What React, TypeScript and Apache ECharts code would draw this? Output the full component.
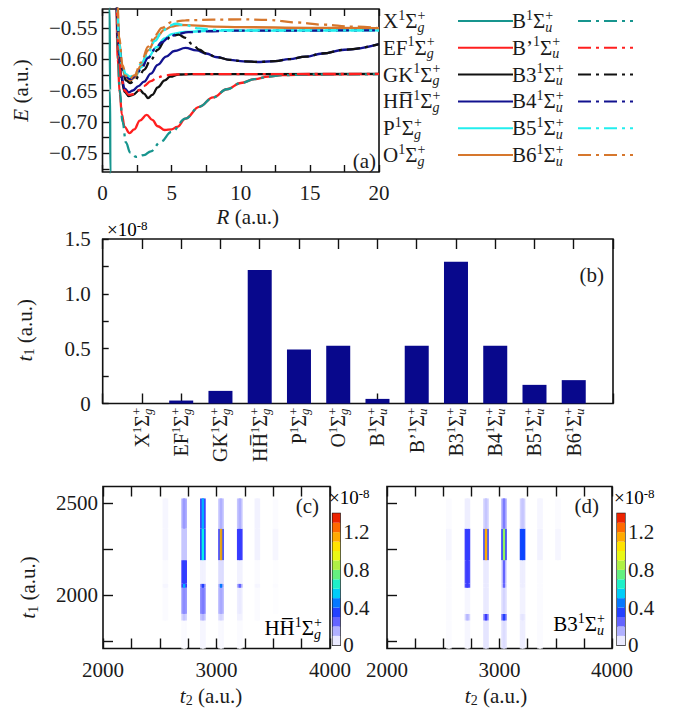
import React, { useEffect, useRef } from 'react';
import * as echarts from 'echarts';

const FONT = 'Liberation Serif, DejaVu Serif, serif';
const INK = '#1b1b1b';

// ---------- (a) potential energy curves, [R (a.u.), E (a.u.)] ----------
const curveX = [[0.48, -0.4], [0.52, -0.52], [0.545, -0.65], [0.57, -0.78], [0.6, -0.86]];
const curveEF = [[0.9, -0.4], [1.0, -0.52], [1.1, -0.6], [1.25, -0.655], [1.4, -0.688], [1.6, -0.708], [1.95, -0.718], [2.3, -0.712], [2.7, -0.698], [3.2, -0.689], [3.6, -0.697], [4.0, -0.707], [4.5, -0.713], [5.0, -0.712], [5.4, -0.708], [6.0, -0.695], [7.0, -0.676], [8.0, -0.661], [9.0, -0.648], [10.0, -0.638], [11.0, -0.632], [12.0, -0.628], [13.0, -0.6255], [15.0, -0.6245], [20, -0.624]];
const curveGK = [[0.9, -0.4], [1.0, -0.51], [1.15, -0.585], [1.35, -0.63], [1.6, -0.652], [1.9, -0.659], [2.2, -0.657], [2.7, -0.649], [3.0, -0.655], [3.3, -0.662], [3.6, -0.657], [4.0, -0.645], [4.5, -0.634], [4.9, -0.628], [5.5, -0.6245], [6.5, -0.6238], [20, -0.6236]];
const curveHH = [[0.9, -0.4], [1.0, -0.51], [1.15, -0.58], [1.35, -0.625], [1.6, -0.647], [1.9, -0.653], [2.2, -0.65], [2.6, -0.643], [3.0, -0.636], [3.5, -0.623], [4.0, -0.609], [4.6, -0.596], [5.2, -0.587], [6.0, -0.582], [6.8, -0.586], [7.5, -0.591], [8.3, -0.597], [9.2, -0.601], [10.2, -0.6035], [11.4, -0.6045], [12.5, -0.603], [13.5, -0.6], [14.7, -0.596], [15.9, -0.591], [17.5, -0.585], [20, -0.576]];
const curveP = [[0.95, -0.42], [1.05, -0.52], [1.2, -0.585], [1.4, -0.615], [1.7, -0.63], [2.0, -0.633], [2.4, -0.627], [2.8, -0.613], [3.3, -0.597], [3.9, -0.581], [4.5, -0.567], [5.0, -0.56], [6.0, -0.5565], [8, -0.5545], [20, -0.554]];
const curveO = [[0.95, -0.4], [1.05, -0.5], [1.2, -0.57], [1.45, -0.615], [1.7, -0.63], [1.95, -0.635], [2.3, -0.63], [2.8, -0.61], [3.3, -0.586], [3.9, -0.565], [4.5, -0.553], [5.0, -0.548], [5.6, -0.5455], [6.5, -0.546], [8, -0.548], [10, -0.549], [15, -0.55], [20, -0.5505]];
const curveB = [[0.92, -0.4], [1.0, -0.5], [1.1, -0.585], [1.25, -0.65], [1.45, -0.7], [1.7, -0.733], [2.0, -0.749], [2.45, -0.756], [3.0, -0.753], [3.5, -0.747], [4.2, -0.732], [5.0, -0.716], [6.0, -0.695], [7.0, -0.676], [8.0, -0.661], [9.0, -0.648], [10.0, -0.638], [11.0, -0.632], [12.0, -0.628], [13.0, -0.6255], [15.0, -0.6245], [20, -0.624]];
const curveBp = [[0.92, -0.4], [1.0, -0.5], [1.15, -0.585], [1.35, -0.63], [1.6, -0.65], [1.9, -0.657], [2.2, -0.656], [2.6, -0.65], [3.0, -0.643], [3.5, -0.635], [4.0, -0.629], [4.5, -0.626], [5.2, -0.6245], [6.5, -0.6238], [20, -0.6236]];
const curveB3 = [[0.95, -0.42], [1.05, -0.52], [1.2, -0.58], [1.4, -0.615], [1.7, -0.634], [2.0, -0.638], [2.3, -0.635], [2.7, -0.625], [3.0, -0.617], [3.5, -0.601], [4.0, -0.585], [4.5, -0.571], [5.0, -0.563], [5.5, -0.561], [6.0, -0.566], [6.5, -0.576], [7.0, -0.585], [7.5, -0.591], [8.3, -0.597], [9.2, -0.601], [10.2, -0.6035], [11.4, -0.6045], [12.5, -0.603], [13.5, -0.6], [14.7, -0.596], [15.9, -0.591], [17.5, -0.585], [20, -0.576]];
const curveB4 = [[0.95, -0.42], [1.05, -0.52], [1.2, -0.58], [1.4, -0.612], [1.7, -0.628], [2.0, -0.632], [2.4, -0.627], [2.8, -0.615], [3.3, -0.598], [3.8, -0.584], [4.3, -0.573], [4.8, -0.565], [5.4, -0.56], [6.2, -0.557], [7.5, -0.5555], [10, -0.5545], [20, -0.554]];
const curveB5 = [[0.95, -0.41], [1.05, -0.51], [1.2, -0.575], [1.4, -0.608], [1.7, -0.624], [2.0, -0.628], [2.4, -0.622], [2.8, -0.607], [3.3, -0.589], [3.8, -0.571], [4.3, -0.556], [4.8, -0.547], [5.3, -0.5435], [6.0, -0.546], [7.0, -0.551], [8.0, -0.5535], [10, -0.554], [20, -0.554]];
const curveB6 = [[0.95, -0.39], [1.05, -0.49], [1.2, -0.565], [1.45, -0.61], [1.7, -0.627], [1.95, -0.632], [2.3, -0.626], [2.8, -0.605], [3.3, -0.58], [3.8, -0.562], [4.3, -0.55], [5.0, -0.541], [6, -0.538], [8, -0.537], [10, -0.5365], [12, -0.5375], [14, -0.5415], [16, -0.545], [18, -0.548], [20, -0.5505]];

const gStates = ['X', 'EF', 'GK', 'HH\u0305', 'P', 'O'];
const uStates = ['B', 'B\u2019', 'B3', 'B4', 'B5', 'B6'];
const gCurves = [curveX, curveEF, curveGK, curveHH, curveP, curveO];
const uCurves = [curveB, curveBp, curveB3, curveB4, curveB5, curveB6];

// ---------- (b) bar values (x 1e-8) ----------
const barStates = [...gStates, ...uStates];
const barValues = [0, 0.027, 0.115, 1.217, 0.493, 0.526, 0.042, 0.526, 1.293, 0.526, 0.17, 0.213];

// ---------- (c), (d) maps: stripes in t2, bands in t1 ----------
const t2Stripes = [2550, 2715, 2880, 3040, 3205, 3360, 3520];
const t1Bands = [[1710, 1862], [1862, 1898], [1898, 2040], [2040, 2062], [2062, 2190], [2190, 2361], [2361, 2525]];
const hhEdge = [
  [0, 0.01, 0.02, 0.015, 0.01, 0, 0],
  [0.01, 0.1, 0.12, 0.08, 0.03, 0.01, 0],
  [0.01, 0.18, 0.2, 0.14, 0.04, 0.01, 0.005],
  [0.02, 0.3, 0.2, 0.15, 0.15, 0.02, 0.01],
  [0.01, 0.3, 0.03, 0.08, 0.03, 0.01, 0.005],
  [0.02, 0.12, 0.35, 0.3, 0.3, 0.03, 0.02],
  [0.02, 0.15, 0.3, 0.12, 0.12, 0.03, 0.01],
];
const hhCore = [
  [0, 0.01, 0.02, 0.015, 0.01, 0, 0],
  [0.01, 0.12, 0.14, 0.1, 0.03, 0.01, 0],
  [0.01, 0.2, 0.22, 0.16, 0.05, 0.01, 0.005],
  [0.02, 0.5, 0.35, 0.45, 0.25, 0.02, 0.01],
  [0.01, 0.33, 0.03, 0.08, 0.03, 0.01, 0.005],
  [0.02, 0.12, 0.6, 0.9, 0.32, 0.03, 0.02],
  [0.02, 0.18, 0.5, 0.15, 0.15, 0.03, 0.01],
];
const hhLine = [
  [0, 0.01, 0.02, 0.015, 0.01, 0, 0],
  [0.01, 0.12, 0.14, 0.1, 0.03, 0.01, 0],
  [0.01, 0.2, 0.22, 0.16, 0.05, 0.01, 0.005],
  [0.02, 0.5, 0.35, 0.45, 0.25, 0.02, 0.01],
  [0.01, 0.33, 0.03, 0.08, 0.03, 0.01, 0.005],
  [0.02, 0.12, 0.62, 1.3, 0.32, 0.03, 0.02],
  [0.02, 0.18, 0.52, 0.15, 0.15, 0.03, 0.01],
];
const b3Edge = [
  [0.01, 0.02, 0.06, 0.06, 0.04, 0.01, 0],
  [0.01, 0.1, 0.2, 0.22, 0.05, 0.01, 0],
  [0.01, 0.02, 0.05, 0.07, 0.03, 0.01, 0],
  [0.01, 0.28, 0.05, 0.1, 0.04, 0.01, 0],
  [0.01, 0.28, 0.05, 0.1, 0.04, 0.01, 0],
  [0.02, 0.3, 0.3, 0.3, 0.38, 0.03, 0.02],
  [0.01, 0.04, 0.1, 0.15, 0.1, 0.02, 0.01],
];
const b3Core = [
  [0.01, 0.02, 0.06, 0.08, 0.04, 0.01, 0],
  [0.01, 0.14, 0.3, 0.35, 0.06, 0.01, 0],
  [0.01, 0.02, 0.05, 0.1, 0.03, 0.01, 0],
  [0.01, 0.3, 0.05, 0.25, 0.04, 0.01, 0],
  [0.01, 0.3, 0.05, 0.25, 0.04, 0.01, 0],
  [0.02, 0.32, 1.0, 0.72, 0.4, 0.03, 0.02],
  [0.01, 0.04, 0.12, 0.22, 0.12, 0.02, 0.01],
];
const b3Line = [
  [0.01, 0.02, 0.06, 0.08, 0.04, 0.01, 0],
  [0.01, 0.14, 0.3, 0.35, 0.06, 0.01, 0],
  [0.01, 0.02, 0.05, 0.1, 0.03, 0.01, 0],
  [0.01, 0.3, 0.05, 0.25, 0.04, 0.01, 0],
  [0.01, 0.3, 0.05, 0.25, 0.04, 0.01, 0],
  [0.02, 0.32, 1.3, 0.95, 0.4, 0.03, 0.02],
  [0.01, 0.04, 0.12, 0.22, 0.12, 0.02, 0.01],
];
const colorbarLevels = [0, 0.1, 0.2, 0.3, 0.4, 0.5, 0.6, 0.7, 0.8, 0.9, 1.0, 1.1, 1.2, 1.3, 1.4];

// tick values
const aTicksY = [-0.775, -0.75, -0.725, -0.7, -0.675, -0.65, -0.625, -0.6, -0.575, -0.55, -0.525];
const aLabelsY = [-0.75, -0.7, -0.65, -0.6, -0.55];
const mapTicksY = [1750, 2000, 2250, 2500];
const mapLabelsY = [2000, 2500];
const cbarLabels = [0, 0.4, 0.8, 1.2];

// ---------- styles ----------
const curveColors = ['#17958e', '#ff1f1f', '#111111', '#12128f', '#22eeee', '#d6772d'];
const cmap = ['#ffffff', '#d4d4ff', '#8c8cff', '#3c3cff', '#0a46ff', '#00aaff', '#00f0f0', '#3cf0a0', '#8cf060', '#d2f028', '#ffff00', '#ffc800', '#ff8c00', '#ff4600', '#dc0000'];
const stripeWidths = [50, 22, 8];
const DASHDOT = [13, 5, 3, 5];

const richSet = (F: number, f: number, lh: number) => ({
  n: { fontFamily: FONT, fontSize: F, lineHeight: lh, color: INK, align: 'left' },
  it: { fontFamily: FONT, fontSize: F, lineHeight: lh, color: INK, align: 'left', fontStyle: 'italic' },
  sp: { fontFamily: FONT, fontSize: f, lineHeight: f, color: INK, align: 'left', verticalAlign: 'top' },
  spz: { fontFamily: FONT, fontSize: f, lineHeight: f, color: INK, align: 'left', verticalAlign: 'top', width: 0 },
  sb: { fontFamily: FONT, fontSize: f, lineHeight: f, color: INK, align: 'left', verticalAlign: 'bottom', fontStyle: 'italic' },
  sr: { fontFamily: FONT, fontSize: f, lineHeight: f, color: INK, align: 'left', verticalAlign: 'bottom' },
});
const stateRich = (s: string, sym: string) => `{n|${s}}{sp|1}{n|\u03a3}{spz|+}{sb|${sym}}`;
const labelOf: Record<string, string> = {};
gStates.forEach((s) => (labelOf[s] = stateRich(s, 'g')));
uStates.forEach((s) => (labelOf[s] = stateRich(s, 'u')));

const buildCells = (edge: number[][], core: number[][], line: number[][]) => {
  const out: number[][] = [];
  [edge, core, line].forEach((m, lvl) => {
    t1Bands.forEach((band, bi) => {
      t2Stripes.forEach((t2, si) => {
        const v = m[bi][si];
        if (v > 0) out.push([t2, band[0], band[1], v, lvl]);
      });
    });
  });
  return out;
};

const renderCell = (params: any, api: any) => {
  const w = stripeWidths[api.value(4)];
  const t2 = api.value(0);
  const a = api.coord([t2 - w / 2, api.value(2)]);
  const b = api.coord([t2 + w / 2, api.value(1)]);
  return { type: 'rect', shape: { x: a[0], y: a[1], width: b[0] - a[0], height: b[1] - a[1] }, style: { fill: api.visual('color') } };
};
const renderBar = (params: any, api: any) => {
  const a = api.coord([0, api.value(2)]);
  const b = api.coord([1, api.value(1)]);
  return { type: 'rect', shape: { x: a[0], y: a[1], width: b[0] - a[0], height: b[1] - a[1] }, style: { fill: api.visual('color') } };
};
const cbarData = colorbarLevels.slice(0, -1).map((lo, i) => [0.5, lo, colorbarLevels[i + 1], (lo + colorbarLevels[i + 1]) / 2, 0]);

const tick = (len: number) => ({ show: true, inside: true, length: len, lineStyle: { color: '#111', width: 1.4 } });
const labelStyle = { fontFamily: FONT, fontSize: 21, color: INK };
const gridBox = { show: true, borderColor: '#111', borderWidth: 1.6, backgroundColor: 'transparent' };

function buildOption() {
  const lineSeries: any[] = [];
  gStates.forEach((s, i) =>
    lineSeries.push({ type: 'line', name: s, data: gCurves[i], xAxisIndex: 0, yAxisIndex: 0, symbol: 'none', smooth: 0.4, smoothMonotone: 'x', lineStyle: { color: curveColors[i], width: 2.3 }, itemStyle: { color: curveColors[i] } })
  );
  uStates.forEach((s, i) =>
    lineSeries.push({ type: 'line', name: s, data: uCurves[i], xAxisIndex: 0, yAxisIndex: 0, symbol: 'none', smooth: 0.4, smoothMonotone: 'x', lineStyle: { color: curveColors[i], width: 2.3, type: DASHDOT }, itemStyle: { color: curveColors[i] } })
  );
  const legendRich = richSet(21, 14, 26);
  const axisRich = richSet(21, 14, 24);
  const barRich = richSet(20, 13, 24);
  const mkLegend = (names: string[], left: number, textW: number) => ({
    data: names, orient: 'vertical', left, top: 8, padding: 0, itemGap: 0.8, itemWidth: 55, itemHeight: 14, align: 'right', selectedMode: false,
    formatter: (n: string) => labelOf[n],
    itemStyle: { opacity: 0, color: 'transparent', borderWidth: 0 },
    textStyle: { width: textW, fontFamily: FONT, fontSize: 21, color: INK, rich: legendRich },
  });
  const mapX = (grid: number, pos: 'bottom' | 'top', shift: number) => ({
    type: 'value', gridIndex: grid, position: pos, min: 2000, max: 4000, interval: 250,
    axisLine: { show: false }, axisTick: tick(10), splitLine: { show: false },
    axisLabel: pos === 'bottom' ? { ...labelStyle, margin: 11, formatter: (v: number) => (v % 1000 === 0 ? String(v) : '') } : { show: false },
    ...(pos === 'bottom' ? { name: '{it|t}{sr|2}{n| (a.u.)}', nameLocation: 'middle', nameGap: 35, nameTextStyle: { rich: axisRich, padding: shift > 0 ? [0, 0, 0, shift] : [0, -shift, 0, 0] } } : {}),
  });
  const cbarAxis = (grid: number) => ({
    type: 'value', gridIndex: grid, position: 'right', min: 0, max: 1.4, axisLine: { show: false }, splitLine: { show: false }, axisTick: { show: false },
    axisLabel: { ...labelStyle, margin: 3, customValues: cbarLabels, formatter: (v: number) => (v === 0 ? '0' : v.toFixed(1)) },
  });
  return {
    animation: false,
    backgroundColor: '#ffffff',
    textStyle: { fontFamily: FONT },
    grid: [
      { left: 102.5, top: 9, width: 276.5, height: 163, ...gridBox },
      { left: 102.7, top: 239, width: 510.3, height: 164.5, ...gridBox },
      { left: 103, top: 486.5, width: 227, height: 162, ...gridBox },
      { left: 387, top: 486.5, width: 225, height: 162, ...gridBox },
      { left: 332.5, top: 513.3, width: 7.7, height: 132, ...gridBox, borderWidth: 1.2 },
      { left: 617, top: 513.3, width: 8, height: 132, ...gridBox, borderWidth: 1.2 },
    ],
    legend: [mkLegend(gStates, 383, 70), mkLegend(uStates, 512, 61)],
    xAxis: [
      { type: 'value', gridIndex: 0, min: 0, max: 20, interval: 2.5, axisLine: { show: false }, axisTick: tick(7), splitLine: { show: false },
        axisLabel: { ...labelStyle, margin: 10, formatter: (v: number) => (v % 5 === 0 ? String(v) : '') },
        name: '{it|R}{n| (a.u.)}', nameLocation: 'middle', nameGap: 33, nameTextStyle: { rich: axisRich, padding: [0, 0, 0, 14] } },
      { type: 'value', gridIndex: 0, position: 'top', min: 0, max: 20, interval: 2.5, axisLine: { show: false }, axisTick: tick(7), axisLabel: { show: false }, splitLine: { show: false } },
      { type: 'value', gridIndex: 1, min: 0, max: 13, interval: 1, axisLine: { show: false }, axisTick: tick(10), splitLine: { show: false },
        axisLabel: { rotate: 90, margin: 5, rich: barRich, formatter: (v: number) => (v >= 1 && v <= 12 ? labelOf[barStates[v - 1]] : '') } },
      { type: 'value', gridIndex: 1, position: 'top', min: 0, max: 13, interval: 1, axisLine: { show: false }, axisTick: tick(10), axisLabel: { show: false }, splitLine: { show: false } },
      mapX(2, 'bottom', -11),
      mapX(2, 'top', 0),
      mapX(3, 'bottom', -7),
      mapX(3, 'top', 0),
      { type: 'value', gridIndex: 4, min: 0, max: 1, show: false },
      { type: 'value', gridIndex: 5, min: 0, max: 1, show: false },
    ],
    yAxis: [
      { type: 'value', gridIndex: 0, min: -0.78, max: -0.52, axisLine: { show: false }, splitLine: { show: false },
        axisTick: { ...tick(7), customValues: aTicksY },
        axisLabel: { ...labelStyle, margin: 5, customValues: aLabelsY, formatter: (v: number) => v.toFixed(2).replace('-', '\u2212') },
        name: '{it|E}{n| (a.u.)}', nameLocation: 'middle', nameRotate: 90, nameGap: 70, nameTextStyle: { rich: axisRich } },
      { type: 'value', gridIndex: 1, min: 0, max: 1.5, interval: 0.25, axisLine: { show: false }, splitLine: { show: false }, axisTick: tick(6),
        axisLabel: { ...labelStyle, margin: 12, formatter: (v: number) => (Math.abs((v * 2) % 1) < 1e-9 ? (v === 0 ? '0' : v.toFixed(1)) : '') },
        name: '{it|t}{sr|1}{n| (a.u.)}', nameLocation: 'middle', nameRotate: 90, nameGap: 66, nameTextStyle: { rich: axisRich, padding: [0, 18, 0, 0] } },
      { type: 'value', gridIndex: 2, min: 1710, max: 2590, axisLine: { show: false }, splitLine: { show: false },
        axisTick: { ...tick(10), customValues: mapTicksY },
        axisLabel: { ...labelStyle, margin: 5, customValues: mapLabelsY, formatter: (v: number) => String(v) },
        name: '{it|t}{sr|1}{n| (a.u.)}', nameLocation: 'middle', nameRotate: 90, nameGap: 63, nameTextStyle: { rich: axisRich, padding: [0, 40, 0, 0] } },
      { type: 'value', gridIndex: 3, min: 1710, max: 2590, axisLine: { show: false }, splitLine: { show: false },
        axisTick: { ...tick(10), customValues: mapTicksY }, axisLabel: { show: false } },
      cbarAxis(4),
      cbarAxis(5),
    ],
    visualMap: { type: 'continuous', show: false, min: 0, max: 1.4, dimension: 3, seriesIndex: [13, 14, 15, 16], inRange: { color: cmap } },
    series: [
      ...lineSeries,
      { type: 'bar', xAxisIndex: 2, yAxisIndex: 1, barWidth: 24, data: barValues.map((v, i) => [i + 1, v]), itemStyle: { color: '#08088c' } },
      { type: 'custom', xAxisIndex: 4, yAxisIndex: 2, renderItem: renderCell, data: buildCells(hhEdge, hhCore, hhLine), encode: { x: 0, y: 1 } },
      { type: 'custom', xAxisIndex: 6, yAxisIndex: 3, renderItem: renderCell, data: buildCells(b3Edge, b3Core, b3Line), encode: { x: 0, y: 1 } },
      { type: 'custom', xAxisIndex: 8, yAxisIndex: 4, renderItem: renderBar, data: cbarData, encode: { x: 0, y: 1 } },
      { type: 'custom', xAxisIndex: 9, yAxisIndex: 5, renderItem: renderBar, data: cbarData, encode: { x: 0, y: 1 } },
    ],
    graphic: [
      { type: 'text', x: 376, y: 171, style: { text: '(a)', fontFamily: FONT, fontSize: 21, fill: INK, align: 'right', verticalAlign: 'bottom' } },
      { type: 'text', x: 604, y: 285, style: { text: '(b)', fontFamily: FONT, fontSize: 21, fill: INK, align: 'right', verticalAlign: 'bottom' } },
      { type: 'text', x: 319, y: 516, style: { text: '(c)', fontFamily: FONT, fontSize: 21, fill: INK, align: 'right', verticalAlign: 'bottom' } },
      { type: 'text', x: 599, y: 516, style: { text: '(d)', fontFamily: FONT, fontSize: 21, fill: INK, align: 'right', verticalAlign: 'bottom' } },
      { type: 'text', x: 321, y: 641, style: { text: labelOf['HH\u0305'], rich: legendRich, align: 'right', verticalAlign: 'bottom' } },
      { type: 'text', x: 604, y: 637, style: { text: labelOf['B3'], rich: legendRich, align: 'right', verticalAlign: 'bottom' } },
      { type: 'text', x: 107, y: 219, style: { text: '{n|\u00d710}{sp|-8}', rich: richSet(19, 13, 20), align: 'left', verticalAlign: 'top' } },
      { type: 'text', x: 329, y: 487, style: { text: '{n|\u00d710}{sp|-8}', rich: richSet(19, 13, 20), align: 'left', verticalAlign: 'top' } },
      { type: 'text', x: 614, y: 487, style: { text: '{n|\u00d710}{sp|-8}', rich: richSet(19, 13, 20), align: 'left', verticalAlign: 'top' } },
    ],
  };
}

export default function App() {
  const ref = useRef<HTMLDivElement>(null);
  useEffect(() => {
    if (!ref.current) return;
    const chart = echarts.init(ref.current, null, { renderer: 'svg' });
    chart.setOption(buildOption() as any);
    return () => chart.dispose();
  }, []);
  return <div ref={ref} style={{ position: 'absolute', left: 0, top: 0, width: 677, height: 715, background: '#fff' }} />;
}
